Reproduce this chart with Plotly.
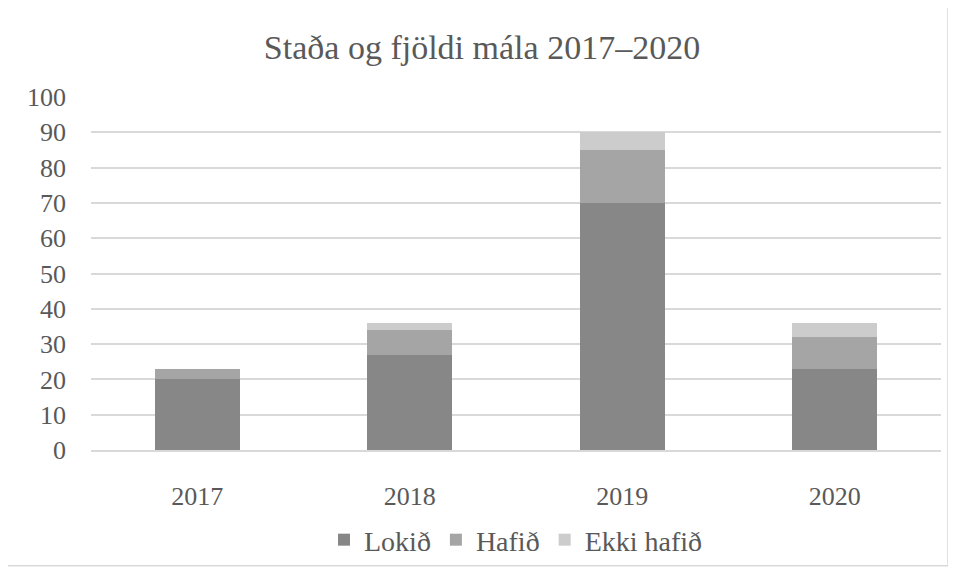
import plotly.graph_objects as go

years = ["2017", "2018", "2019", "2020"]
lokid = [20, 27, 70, 23]
hafid = [3, 7, 15, 9]
ekki_hafid = [0, 2, 5, 4]
series_names = ["Lokið", "Hafið", "Ekki hafið"]
colors = ["#878787", "#a5a5a5", "#cccccc"]

fig = go.Figure()
for name, vals, col in zip(series_names, [lokid, hafid, ekki_hafid], colors):
    fig.add_trace(go.Bar(x=years, y=vals, name=name, marker=dict(color=col, line=dict(width=0))))

# page has an 8px body margin; shift everything by -8
OFF = 8
W, H = 956 - OFF, 577 - OFF
L, R = 91 - OFF, 941 - OFF   # plot area left/right in figure px
T, B = 97 - OFF, 454 - OFF   # plot area top/bottom
PW, PH = R - L, B - T

font_family = "Liberation Serif"
fig.update_layout(
    barmode="stack",
    bargap=0.6,
    width=W, height=H,
    margin=dict(l=L, r=W - R, t=T, b=H - B),
    paper_bgcolor="white", plot_bgcolor="white",
    font=dict(family=font_family, color="#595959", size=26),
    title=dict(text="Staða og fjöldi mála 2017–2020", x=0.5, xanchor="center",
               y=1 - (47 - OFF) / H, yanchor="middle", font=dict(family=font_family, size=34, color="#595959")),
    showlegend=True,
    legend=dict(orientation="h", x=0.5, xanchor="center", y=(454 - 545) / PH, yanchor="middle",
                font=dict(family=font_family, size=28, color="#595959"), traceorder="normal"),
    xaxis=dict(showgrid=False, showline=True, linecolor="#d9d9d9", linewidth=1.5,
               ticks="", ticklabelstandoff=22, tickfont=dict(family=font_family, size=26)),
    yaxis=dict(range=[0, 100], dtick=10, showgrid=True, gridcolor="#d9d9d9", gridwidth=1.5,
               zeroline=False, showline=False, ticks="", ticklabelstandoff=24,
               tickfont=dict(family=font_family, size=26)),
    shapes=[dict(type="rect", xref="paper", yref="paper",
                 x0=(6 - 91) / PW, x1=(948 - 91) / PW,
                 y0=(454 - 571) / PH, y1=(454 - 4) / PH,
                 line=dict(color="#d9d9d9", width=1.5), fillcolor="rgba(0,0,0,0)", layer="below")],
)

fig.write_html("out.html")
